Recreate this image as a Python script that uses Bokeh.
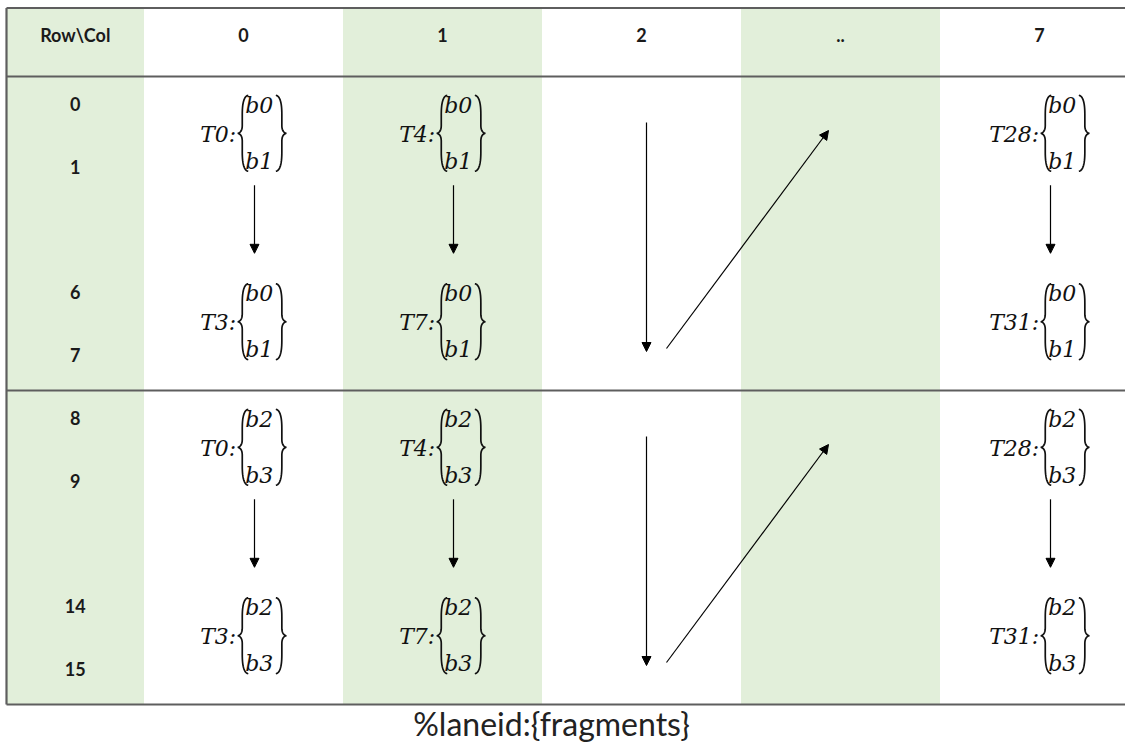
import numpy as np
from bokeh.plotting import figure
from bokeh.models import Range1d, ColumnDataSource, Arrow, NormalHead
from bokeh.core.properties import value
from bokeh.embed import file_html
from bokeh.resources import INLINE

# ---------------- data ----------------
corner_label = "Row\\Col"
col_labels = ["0", "1", "2", "..", "7"]
row_labels_upper = ["0", "1", "6", "7"]
row_labels_lower = ["8", "9", "14", "15"]
first_threads = ["T0", "T4", None, None, "T28"]
last_threads = ["T3", "T7", None, None, "T31"]
fragments_upper = ["b0", "b1"]
fragments_lower = ["b2", "b3"]
caption = "%laneid:{fragments}"

# ---------------- layout ----------------
W, H = 1125, 746
X_LEFT = 6.0
FIRST_RIGHT = 143.5
COL_W = 199.0
Y_TOP = 7.5
Y_HEAD = 76.0
ROW_H = 62.8
SLOTS_PER_BLOCK = 5
LABEL_SLOTS = [0, 1, 3, 4]
Y_MID = Y_HEAD + SLOTS_PER_BLOCK * ROW_H
Y_BOT = Y_HEAD + 2 * SLOTS_PER_BLOCK * ROW_H
X_END = W

GREEN = "#E2EFDA"
LINE = "#5e5e5e"
MATH_FONT = "DejaVu Serif"
MATH_SIZE = 22
UI_FONT = "Lato"

def col_left(i):
    return FIRST_RIGHT + i * COL_W

def col_center(i):
    return col_left(i) + COL_W / 2

def slot_center(k):
    return Y_HEAD + ROW_H * (k + 0.5)

# approximate advance widths (em) for the italic serif face
CW = {"T": 0.62, "b": 0.64, ":": 0.34}
def est_width(s):
    return sum(CW.get(ch, 0.636) for ch in s) * MATH_SIZE

p = figure(width=W, height=H, output_backend="svg", toolbar_location=None,
           x_range=Range1d(0, W), y_range=Range1d(H, 0),
           min_border=0, min_border_left=0, min_border_right=0,
           min_border_top=0, min_border_bottom=0)
p.axis.visible = False
p.grid.visible = False
p.outline_line_color = None
p.background_fill_color = "white"
p.border_fill_color = "white"

# ---- green shading columns: corner, and every other column ----
g_left = [X_LEFT] + [col_left(i) for i in range(len(col_labels)) if i % 2 == 1]
g_right = [FIRST_RIGHT] + [col_left(i) + COL_W for i in range(len(col_labels)) if i % 2 == 1]
p.quad(left=g_left, right=g_right, top=[Y_TOP] * len(g_left), bottom=[Y_BOT] * len(g_left),
       fill_color=GREEN, line_color=None)

# ---- table lines ----
hy = [Y_TOP, Y_HEAD, Y_MID, Y_BOT]
p.segment(x0=[X_LEFT] * 4, x1=[X_END] * 4, y0=hy, y1=hy, line_color=LINE, line_width=2.2)
p.segment(x0=[X_LEFT], x1=[X_LEFT], y0=[Y_TOP], y1=[Y_BOT], line_color=LINE, line_width=2.2)

# ---- header ----
hx = [(X_LEFT + FIRST_RIGHT) / 2] + [col_center(i) for i in range(len(col_labels))]
p.text(x=hx, y=[34] * len(hx), text=[corner_label] + col_labels,
       text_font=value(UI_FONT), text_font_style="bold", text_font_size="18px",
       text_align="center", text_baseline="middle", text_color="#1a1a1a")

# ---- row labels ----
rl_x, rl_y, rl_t = [], [], []
for b, labels in enumerate([row_labels_upper, row_labels_lower]):
    for s, lab in zip(LABEL_SLOTS, labels):
        rl_x.append((X_LEFT + FIRST_RIGHT) / 2)
        rl_y.append(slot_center(b * SLOTS_PER_BLOCK + s) - 4)
        rl_t.append(lab)
p.text(x=rl_x, y=rl_y, text=rl_t, text_font=value(UI_FONT), text_font_style="bold",
       text_font_size="18px", text_align="center", text_baseline="middle", text_color="#1a1a1a")

# ---- braces ----
def qb(p0, p1, p2, n=16):
    t = np.linspace(0, 1, n)
    x = (1 - t) ** 2 * p0[0] + 2 * (1 - t) * t * p1[0] + t ** 2 * p2[0]
    y = (1 - t) ** 2 * p0[1] + 2 * (1 - t) * t * p1[1] + t ** 2 * p2[1]
    return list(x), list(y)

def brace(tip, yt, yb, direction):
    # direction=+1 -> "{" (tip on left), -1 -> "}" (tip on right)
    s = tip + 4.5 * direction
    h = tip + 10.5 * direction
    ym = (yt + yb) / 2
    xs, ys = [], []
    for seg in [((h, yt), (s, yt + 1.0), (s, yt + 19)),
                ((s, yt + 19), (s, ym - 5), (s, ym - 8)),
                ((s, ym - 8), (s, ym - 1), (tip, ym)),
                ((tip, ym), (s, ym + 1), (s, ym + 8)),
                ((s, ym + 8), (s, ym + 5), (s, yb - 19)),
                ((s, yb - 19), (s, yb - 1.0), (h, yb))]:
        x, y = qb(*seg)
        xs += x
        ys += y
    return xs, ys

br_xs, br_ys = [], []
lab_x, lab_y, lab_t = [], [], []
fr_x, fr_y, fr_t = [], [], []
arr = dict(x0=[], y0=[], x1=[], y1=[])

for b, frags in enumerate([fragments_upper, fragments_lower]):
    block_top = Y_HEAD + b * SLOTS_PER_BLOCK * ROW_H
    for i in range(len(col_labels)):
        if first_threads[i] is None:
            continue
        pairs = [(first_threads[i], 0), (last_threads[i], 3)]
        centers = []
        for thr, s in pairs:
            k = b * SLOTS_PER_BLOCK + s
            yc = (slot_center(k) + slot_center(k + 1)) / 2 - 6
            centers.append(yc)
            label = thr + ":"
            wl = est_width(label)
            wb = max(est_width(f) for f in frags)
            block_w = 7 + wb + 3 + 10.5
            group_w = wl + 2 + block_w
            L = col_center(i) - group_w / 2 + wl + 2
            R = L + block_w
            for (tip, d) in [(L, 1), (R, -1)]:
                xs, ys = brace(tip, yc - 38, yc + 38, d)
                br_xs.append(xs)
                br_ys.append(ys)
            lab_x.append(L - 1.5); lab_y.append(yc + 1); lab_t.append(label)
            fr_x += [L + 7.5, L + 7.5]
            fr_y += [yc - 28, yc + 28]
            fr_t += frags
        ax = col_center(i) + 11
        arr["x0"].append(ax); arr["y0"].append(centers[0] + 52)
        arr["x1"].append(ax); arr["y1"].append(centers[0] + 120)
    # traversal arrows in column "2" toward column ".."
    c2 = col_labels.index("2")
    cd = col_labels.index("..")
    arr["x0"].append(col_center(c2) + 5); arr["y0"].append(block_top + 46)
    arr["x1"].append(col_center(c2) + 5); arr["y1"].append(block_top + 275)
    arr["x0"].append(col_center(c2) + 25); arr["y0"].append(block_top + 272)
    arr["x1"].append(col_center(cd) - 12); arr["y1"].append(block_top + 54)

p.multi_line(xs=br_xs, ys=br_ys, line_color="#111111", line_width=1.7)
p.text(x=lab_x, y=lab_y, text=lab_t, text_font=value(MATH_FONT), text_font_style="italic",
       text_font_size=f"{MATH_SIZE}px", text_align="right", text_baseline="middle",
       text_color="#111111")
p.text(x=fr_x, y=fr_y, text=fr_t, text_font=value(MATH_FONT), text_font_style="italic",
       text_font_size=f"{MATH_SIZE}px", text_align="left", text_baseline="middle",
       text_color="#111111")

p.add_layout(Arrow(end=NormalHead(size=9, line_color="black", fill_color="black", line_width=1),
                   x_start="x0", y_start="y0", x_end="x1", y_end="y1",
                   source=ColumnDataSource(arr), line_color="black", line_width=1.2))

# ---- caption ----
p.text(x=[551], y=[723], text=[caption], text_font=value(UI_FONT), text_font_size="32px",
       text_align="center", text_baseline="middle", text_color="#222222")

open("out.html", "w").write(file_html(p, INLINE))
